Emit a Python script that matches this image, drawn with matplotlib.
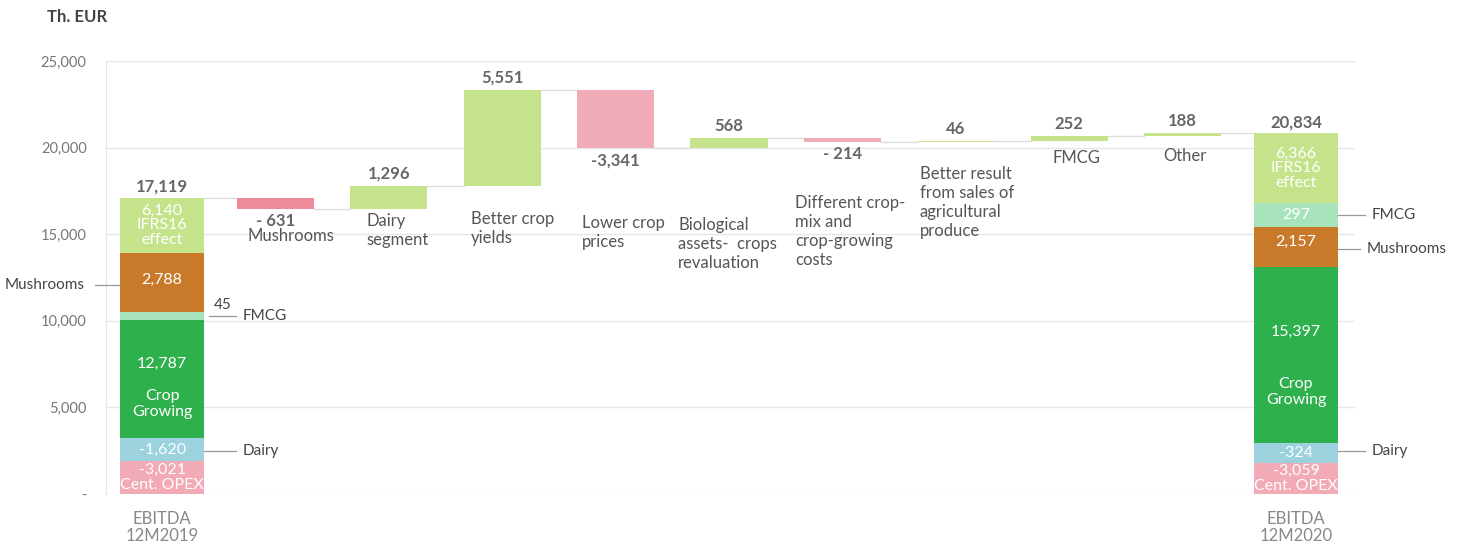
import numpy as np
import matplotlib
matplotlib.use("Agg")
import matplotlib.pyplot as plt

plt.rcParams['font.family'] = ['Lato', 'DejaVu Sans']

# --- data -------------------------------------------------------------
start_total = 17119
end_total = 20834

# waterfall steps between the two EBITDA bars
step_names = ["Mushrooms", "Dairy\nsegment", "Better crop\nyields", "Lower crop\nprices",
              "Biological\nassets-  crops\nrevaluation", "Different crop-\nmix and\ncrop-growing\ncosts",
              "Better result\nfrom sales of\nagricultural\nproduce", "FMCG", "Other"]
step_values = [-631, 1296, 5551, -3341, 568, -214, 46, 252, 188]

# composition of the end bars; drawn heights
seg_names = ["Cent. OPEX", "Dairy", "Crop\nGrowing", "FMCG", "Mushrooms", "IFRS16\neffect"]
seg_2019 = [-3021, -1620, 12787, 45, 2788, 6140]
seg_2020 = [-3059, -324, 15397, 297, 2157, 6366]
drawn_2019 = [1905, 1313, 6853, 440, 3410, 3198]
drawn_2020 = [1809, 1145, 10152, 1371, 2335, 4022]
seg_colors = ["#F2AAB7", "#9BD2DE", "#2EB04C", "#A7E4BB", "#C8792A", "#C5E38B"]
order_2019 = [0, 1, 2, 3, 4, 5]   # bottom -> top
order_2020 = [0, 1, 2, 4, 3, 5]

end_labels = ["EBITDA\n12M2019", "EBITDA\n12M2020"]

# --- layout -----------------------------------------------------------
POS = "#C5E38B"
NEG = "#F2ABB8"
VAL = "#666666"
CAT = "#555555"
LINE = "#999999"
W = 0.68
WE = 0.74

fig = plt.figure(figsize=(14.59, 5.48), dpi=100)
ax = fig.add_axes([0.0727, 0.0985, 0.856, 0.790])
ax.set_xlim(-0.494, 10.52)
ax.set_ylim(0, 25000)

ax.set_yticks([0, 5000, 10000, 15000, 20000, 25000])
ax.set_yticklabels(["-"] + [f"{v:,}" for v in [5000, 10000, 15000, 20000, 25000]])
ax.tick_params(axis='y', length=0, labelsize=10.5, labelcolor="#777777", pad=14)
ax.set_xticks([])
ax.grid(axis='y', color="#E6E6E6", linewidth=1)
ax.set_axisbelow(True)
for s in ["top", "right", "bottom"]:
    ax.spines[s].set_visible(False)
ax.spines["left"].set_color("#E6E6E6")

fig.text(47 / 1459, 1 - 17 / 548, "Th. EUR", fontsize=12, fontweight='bold',
         color="#444444", va='center')


def stack(x, drawn, vals, total, order):
    """stacked end bar; returns {segment index: (bottom, height)}"""
    heights = [drawn[i] for i in order]
    bottoms = np.concatenate([[0], np.cumsum(heights)[:-1]])
    ax.bar([x] * len(order), heights, bottom=bottoms, width=WE,
           color=[seg_colors[i] for i in order], linewidth=0, zorder=2)
    ax.text(x, sum(heights) + 150, f"{total:,}", ha='center', va='bottom',
            fontsize=12, fontweight='bold', color=VAL)
    return {i: (b, h) for i, b, h in zip(order, bottoms, heights)}


def inner(x, segs, vals, skip_fmcg, mush_frac):
    for i, (b, h) in segs.items():
        v, n = vals[i], seg_names[i]
        if i == 2:
            ax.text(x, b + h * 0.63, f"{v:,}", ha='center', va='center', color='white', fontsize=11.5)
            ax.text(x, b + h * 0.29, n, ha='center', va='center', color='white', fontsize=11.5,
                    linespacing=1.15)
        elif i in (0, 5):
            ax.text(x, b + h * 0.5, f"{v:,}\n{n}", ha='center', va='center', color='white',
                    fontsize=11.5, linespacing=1.05)
        elif i == 3 and skip_fmcg:
            continue
        else:
            frac = mush_frac if i == 4 else 0.5
            ax.text(x, b + h * frac, f"{v:,}", ha='center', va='center', color='white', fontsize=11.5)


s19 = stack(0, drawn_2019, seg_2019, start_total, order_2019)
s20 = stack(10, drawn_2020, seg_2020, end_total, order_2020)
inner(0, s19, seg_2019, True, 0.55)
inner(10, s20, seg_2020, False, 0.62)

# waterfall steps
level = start_total
prev_right = WE / 2
cat_dx = [-0.25, -0.20, -0.28, -0.30, -0.45, -0.42, -0.32, 0.06, 0.02]
cat_top = [15360, 16225, 16340, 16110, 15990, 17260, 18940, 19860, 19980]
for k, v in enumerate(step_values):
    x = k + 1
    ax.plot([prev_right, x - W / 2], [level, level], color="#DDDDDD", linewidth=1, zorder=1)
    color = POS if v > 0 else ("#EE8B9B" if k == 0 else NEG)
    ax.bar(x, v, bottom=level, width=W, color=color, linewidth=0, zorder=2)
    if v > 0:
        ax.text(x, level + v + 250, f"{v:,}", ha='center', va='bottom', fontsize=12,
                fontweight='bold', color=VAL)
    else:
        txt = f"- {abs(v):,}" if abs(v) < 1000 else f"{v:,}"
        ax.text(x, level + v - 250, txt, ha='center', va='top', fontsize=12,
                fontweight='bold', color=VAL)
    ha = 'center' if k >= 7 else 'left'
    ax.text(x + cat_dx[k], cat_top[k], step_names[k], ha=ha, va='top',
            fontsize=12, color=CAT, linespacing=1.22)
    level += v
    prev_right = x + W / 2
ax.plot([prev_right, 10 - WE / 2], [level, level], color="#DDDDDD", linewidth=1, zorder=1)


# side annotations
def side_note(x0, x1, y, text, tx, ha='left'):
    ax.plot([x0, x1], [y, y], color=LINE, linewidth=0.9, clip_on=False, zorder=3)
    ax.text(tx, y, text, ha=ha, va='center', fontsize=11, color="#444444")


hw = WE / 2
b, h = s19[4]
side_note(-0.59, -0.37, b + h * 0.45, "Mushrooms", -0.68, ha='right')
b, h = s19[3]
side_note(hw + 0.04, 0.65, b + h * 0.5, "FMCG", 0.71)
ax.text(0.53, b + h * 0.5 + 200, f"{seg_2019[3]:,}", ha='center', va='bottom', fontsize=11, color="#444444")
b, h = s19[1]
side_note(hw, 0.65, b + h * 0.45, "Dairy", 0.71)

b, h = s20[3]
side_note(10 + hw, 10 + 0.61, b + h * 0.5, "FMCG", 10 + 0.67)
b, h = s20[4]
side_note(10 + hw, 10 + 0.56, b + h * 0.45, "Mushrooms", 10 + 0.62)
b, h = s20[1]
side_note(10 + hw, 10 + 0.61, b + h * 0.6, "Dairy", 10 + 0.67)

# end labels
for x, lab in zip([0, 10], end_labels):
    ax.text(x, -1000, lab, ha='center', va='top', fontsize=12, color="#888888",
            linespacing=1.05)

fig.savefig("out.png", dpi=100)
